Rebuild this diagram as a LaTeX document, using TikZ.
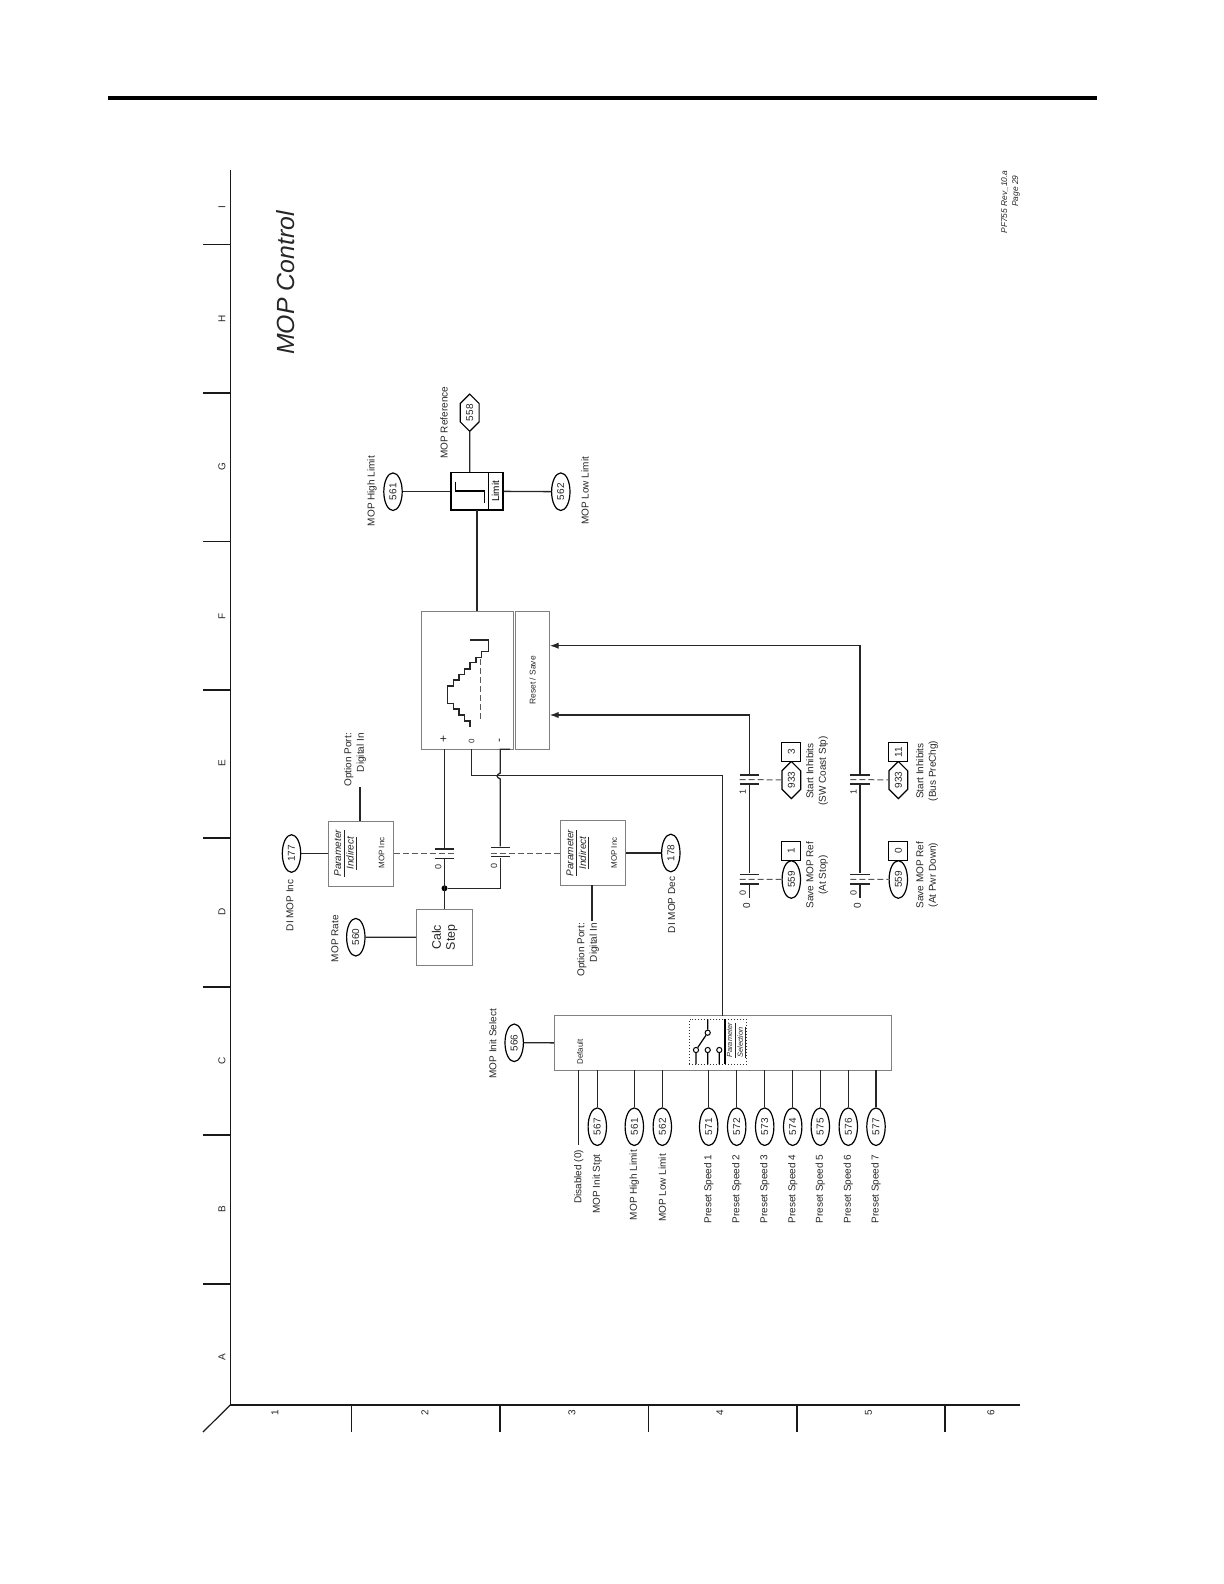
\documentclass[tikz,border=0pt]{standalone}
\usepackage{fontspec}
\setmainfont{Liberation Sans}
\usetikzlibrary{arrows.meta,shapes.geometric,shapes.symbols}

\newcommand\fs[1]{\fontsize{#1bp}{6.3bp}\selectfont}

\tikzset{
  wire/.style={line width=.65bp, draw=black!85},
  frameline/.style={line width=.6bp, draw=black!90},
  dashline/.style={line width=.5bp, draw=black!65, dash pattern=on 3bp off 1.5bp},
  txt/.style={rotate=90, inner sep=0pt, align=center, font=\fs{5}, text=black!85},
  parmoval/.style={ellipse, draw, line width=.6bp, fill=white, minimum width=18.8bp, minimum height=9.2bp, inner sep=0pt, rotate=90, font=\fs{5}, text=black!85},
  parmhex/.style={signal, signal to=east and west, signal pointer angle=90, draw, line width=.6bp, fill=white, minimum width=18.6bp, minimum height=9.4bp, inner sep=0pt, rotate=90, font=\fs{5}, text=black!85},
  parmbox/.style={draw, line width=.6bp, fill=white, minimum width=9.5bp, minimum height=9.5bp, inner sep=0pt, rotate=90, font=\fs{5}, text=black!85},
  block/.style={draw=black!50, line width=.5bp, inner sep=0pt, rotate=90, text=black!85},
  plate/.style={fill=black!85, minimum width=9.6bp, minimum height=.65bp, inner sep=0pt},
  sw/.style={circle, draw, line width=.5bp, fill=white, minimum size=2.6bp, inner sep=0pt},
}

\begin{document}
\begin{tikzpicture}[x=.5bp, y=-.5bp]
  \useasboundingbox (0,0) rectangle (1224,1584);

  \newcommand\contact[4]{ % name, x, top plate, bottom plate
    \node[plate] (#1a) at (#2,#3) {};
    \node[plate] (#1b) at (#2,#4) {};
  }

  \draw[line width=1.6bp] (108,98) -- (1097,98);

  % frame
  \draw[frameline] (230.3,170) -- (230.3,1405) -- (1020,1405);
  \draw[frameline] (230.3,1405) -- (203,1432);
  \foreach \x in {351.5,500,648.5,797,945}
    \draw[frameline] (\x,1405) -- (\x,1432);
  \foreach \y in {244.5,393,541.5,690,838,987,1135,1284}
    \draw[frameline] (203,\y) -- (230.3,\y);
  \foreach \l/\y in {I/207,H/319,G/467,F/616,E/763.5,D/912,C/1060.5,B/1209,A/1357.5}
    \node[txt, font=\fs{5}] (row\l) at (222,\y) {\l};
  \foreach \l/\x in {1/275,2/425,3/572,4/720,5/868.5,6/991}
    \node[txt, font=\fs{5}] (col\l) at (\x,1413) {\l};

  \node[txt, font=\fs{12.4}\itshape] (title) at (286,283) {MOP Control};
  \node[txt, font=\fontsize{4.2bp}{5.5bp}\selectfont\itshape, align=right, anchor=east] (rev) at (1010.5,170) {PF755 Rev\_10.a\\Page 29\hspace*{2.5bp}};

  % limit and output
  \node[draw, line width=.8bp, minimum width=18.7bp, minimum height=18.7bp, inner sep=0pt] (lim) at (469.7,491.3) {};
  \node[draw, line width=.8bp, minimum width=18.7bp, minimum height=7.2bp, inner sep=0pt, rotate=90, font=\fs{5}] (limtxt) at (495.5,491.3) {Limit};
  \node[parmhex] (e558) at (469.7,412.7) {558};
  \node[parmoval] (e561) at (393,491.7) {561};
  \node[parmoval] (e562) at (560.8,491.7) {562};
  \node[txt] (t558) at (444,422.7) {MOP Reference};
  \node[txt] (t561) at (372,491) {MOP High Limit};
  \node[txt] (t562) at (585,490.8) {MOP Low Limit};
  \draw[wire] (e558) -- (lim.north);
  \draw[wire] (e561) -- (lim.west |- e561);
  \draw[wire] (e562) -- (limtxt);
  \draw[line width=.7bp] (455.7,481.7) -- (455.7,491) -- (484.3,491) -- (484.3,502.7);

  % mop block
  \node[block, minimum width=69bp, minimum height=45.8bp] (mop) at (467.5,680.3) {};
  \node[block, minimum width=69bp, minimum height=17.2bp, font=\fs{4.2}] (rst) at (532.5,680.3) {Reset / Save};
  \coordinate (out) at (477,611.3);
  \coordinate (lout) at (477,510);
  \draw[wire] (lout) -- (out); %% limit<-mop
  \draw[line width=.6bp, draw=black!85] (470,640) -- (488.3,640) -- (488.3,651.7) -- (481.7,651.7) -- (481.7,657.3) -- (476,657.3) -- (476,662.7) -- (470,662.7) -- (470,669) -- (464.7,669) -- (464.7,674.3) -- (459,674.3) -- (459,680) -- (453.3,680) -- (453.3,686) -- (447.3,686) -- (447.3,703.3) -- (453.3,703.3) -- (453.3,709) -- (459,709) -- (459,715) -- (464.7,715) -- (464.7,721) -- (470,721) -- (470,726.7);
  \draw[dashline] (480.3,659.3) -- (480.3,720);
  \node[txt, font=\fs{6}] (plus) at (444,739.3) {+};
  \node[txt, font=\fs{4}] (zero) at (471.7,741) {0};
  \node[txt, font=\fs{6}] (minus) at (500.7,740) {-};

  % calc step
  \node[block, minimum width=28bp, minimum height=28bp, font=\fs{6.2}, align=center] (calc) at (444.7,937.3) {Calc\\[.7bp]Step};
  \node[parmoval] (e560) at (355.8,937.2) {560};
  \node[txt] (t560) at (335,938.7) {MOP Rate};
  \draw[wire] (e560) -- (calc);

  % parameter indirect
  \node[block, minimum width=32.5bp, minimum height=32.5bp, font=\fs{4}] (ind177) at (360.8,853.5) {};
  \node[txt, font=\fs{5}\itshape] (tp177) at (346,853.3) {\underline{Parameter}\\\underline{Indirect}};
  \node[txt, font=\fs{4}] (tm177) at (381.7,853) {MOP Inc};
  \node[parmoval] (e177) at (291.5,853.5) {177};
  \node[txt] (t177) at (290,905.3) {DI MOP Inc};
  \node[txt, align=right, anchor=east] (opt177) at (355,732.7) {Option Port:\\Digital In};
  \coordinate (o177) at (360,787.3);
  \coordinate (i177) at (360,821);
  \draw[wire] (e177) -- (ind177);
  \draw[wire] (o177) -- (i177);

  \node[block, minimum width=32.5bp, minimum height=32.5bp, font=\fs{4}] (ind178) at (592.7,853) {};
  \node[txt, font=\fs{5}\itshape] (tp178) at (578.3,853) {\underline{Parameter}\\\underline{Indirect}};
  \node[txt, font=\fs{4}] (tm178) at (614,853) {MOP Inc};
  \node[parmoval] (e178) at (670.8,853) {178};
  \node[txt] (t178) at (671.7,905) {DI MOP Dec};
  \node[txt, align=right, anchor=east] (opt178) at (588,922.7) {Option Port:\\Digital In};
  \coordinate (o178) at (592,920.7);
  \coordinate (i178) at (592,885.3);
  \draw[wire] (e178) -- (ind178);
  \draw[wire] (o178) -- (i178);

  % contacts inc / dec
  \contact{ca}{444.5}{849}{858.3}
  \contact{cb}{500.3}{847.3}{856.7}
  \coordinate (da) at (454,853.5);
  \coordinate (db) at (490.7,853);
  \draw[dashline] (ind177) -- (da);
  \draw[dashline] (db) -- (ind178);
  \node[txt, font=\fs{4.5}] (za) at (438.3,866.7) {0};
  \node[txt, font=\fs{4.5}] (zb) at (494,865.7) {0};
  \coordinate (pa) at (444.5,749.3);
  \coordinate (pz) at (471.7,749.3);
  \coordinate (pb) at (500.3,749.3);
  \coordinate (pc) at (510,749.3);
  \coordinate (cl) at (444.5,909.3);
  \node[circle, fill=black, minimum size=3bp, inner sep=0pt] (jn) at (444.5,888.3) {};
  \draw[wire] (pa) -- (caa); %% +
  \draw[wire] (cab) -- (cl); %% <-calc
  \draw[wire] (jn) -| (cbb);
  \draw[wire] (cba) -- (500.3,779) .. controls (496,777) and (496,775) .. (500.3,773) -- (pb) -- (pc); %% -

  % init select
  \node[block, minimum width=27.3bp, minimum height=168.7bp, fill=white] (sel) at (723,1043) {};
  \coordinate (st) at (722.7,1015.7);
  \coordinate (cz) at (722.7,775.7);
  \draw[wire] (pz) |- (cz) -- (st); %% 0<-select
  \node[parmoval] (e566) at (514.2,1042.8) {566};
  \node[txt] (t566) at (492.7,1043.7) {MOP Init Select};
  \draw[wire] (e566) -- (sel);
  \node[txt, font=\fs{4}] (tdef) at (580,1052) {Default};

  % switch
  \node[draw=black!80, line width=.5bp, densely dotted, minimum width=28.7bp, minimum height=22.5bp, inner sep=0pt] (swbox) at (718,1041.8) {};
  \coordinate (dt) at (725,1019.3);
  \coordinate (db2) at (725,1064.3);
  \draw[line width=.6bp] (dt) -- (db2);
  \node[txt, font=\fontsize{3.7bp}{5.3bp}\selectfont\itshape, align=left, anchor=west] (tsel) at (737,1058) {\underline{Parameter}\\\underline{Selection}};
  \node[sw] (s1) at (696,1050) {};
  \node[sw] (s2) at (707.7,1050) {};
  \node[sw] (s3) at (719.3,1050) {};
  \node[sw] (sm) at (707.7,1032.7) {};
  \coordinate (l1) at (696,1064.3);
  \coordinate (l2) at (707.7,1064.3);
  \coordinate (l3) at (719.3,1064.3);
  \coordinate (lm) at (707.7,1019.3);
  \draw[line width=.6bp] (s1) -- (l1) (s2) -- (l2) (s3) -- (l3) (sm) -- (lm) (s1) -- (sm);

  % selector inputs
  \coordinate (b0) at (578.7,1070.3);
  \coordinate (e0) at (578.7,1145);
  \draw[wire] (b0) -- (e0);
  \node[txt] (tdis) at (578.7,1177) {Disabled (0)};
  \foreach \n/\x/\t/\y in {567/597.3/MOP Init Stpt/1184, 561/634.3/MOP High Limit/1185, 562/662.3/MOP Low Limit/1188,
      571/708.7/Preset Speed 1/1189, 572/736.7/Preset Speed 2/1189, 573/764.7/Preset Speed 3/1189, 574/792.7/Preset Speed 4/1189,
      575/820.3/Preset Speed 5/1189, 576/848.3/Preset Speed 6/1189, 577/876/Preset Speed 7/1189} {
    \node[parmoval] (s\n) at (\x,1126.7) {\n};
    \node[txt] (ts\n) at (\x,\y) {\t};
    \coordinate (b\n) at (\x,1070.3);
    \draw[wire] (s\n) -- (b\n);
  }

  % save / inhibit contacts
  \foreach \k/\x/\c/\ax/\ay/\bit/\sbit/\ti/\ts in {l/749.3/791.3/817/715/3/1/{Start Inhibits\\(SW Coast Stp)}/{Save MOP Ref\\(At Stop)},
      r/860/898.3/927/645.7/11/0/{Start Inhibits\\(Bus PreChg)}/{Save MOP Ref\\(At Pwr Down)}} {
    \contact{i\k}{\x}{775}{784}
    \contact{s\k}{\x}{874.3}{884}
    \coordinate (end\k) at (\x,898.3);
    \coordinate (dia\k) at (\x-9.6,779.5);
    \coordinate (dsa\k) at (\x-9.6,879.3);
    \coordinate (arr\k) at (549.7,\ay);
    \node[parmhex] (hi\k) at (\c,780) {933};
    \node[parmbox] (bi\k) at (\c,752) {\bit};
    \node[parmoval] (es\k) at (\c,879.5) {559};
    \node[parmbox] (bs\k) at (\c,851) {\sbit};
    \node[txt] (ti\k) at (\ax,771) {\ti};
    \node[txt] (ts\k) at (\ax,875) {\ts};
    \node[txt, font=\fs{4.5}] (one\k) at (\x-6.6,792) {1};
    \node[txt, font=\fs{4.5}] (zs\k) at (\x-6.6,893) {0};
    \node[txt, font=\fs{5}] (zz\k) at (\x-2.6,906) {0};
    \draw[wire, -{Latex[length=4.5bp,width=3.2bp]}] (i\k a) |- (arr\k);
    \draw[wire] (i\k b) -- (s\k a);
    \draw[wire] (s\k b) -- (end\k);
    \draw[dashline] (dia\k) -- (hi\k);
    \draw[dashline] (dsa\k) -- (es\k);
  }
\end{tikzpicture}
\end{document}
